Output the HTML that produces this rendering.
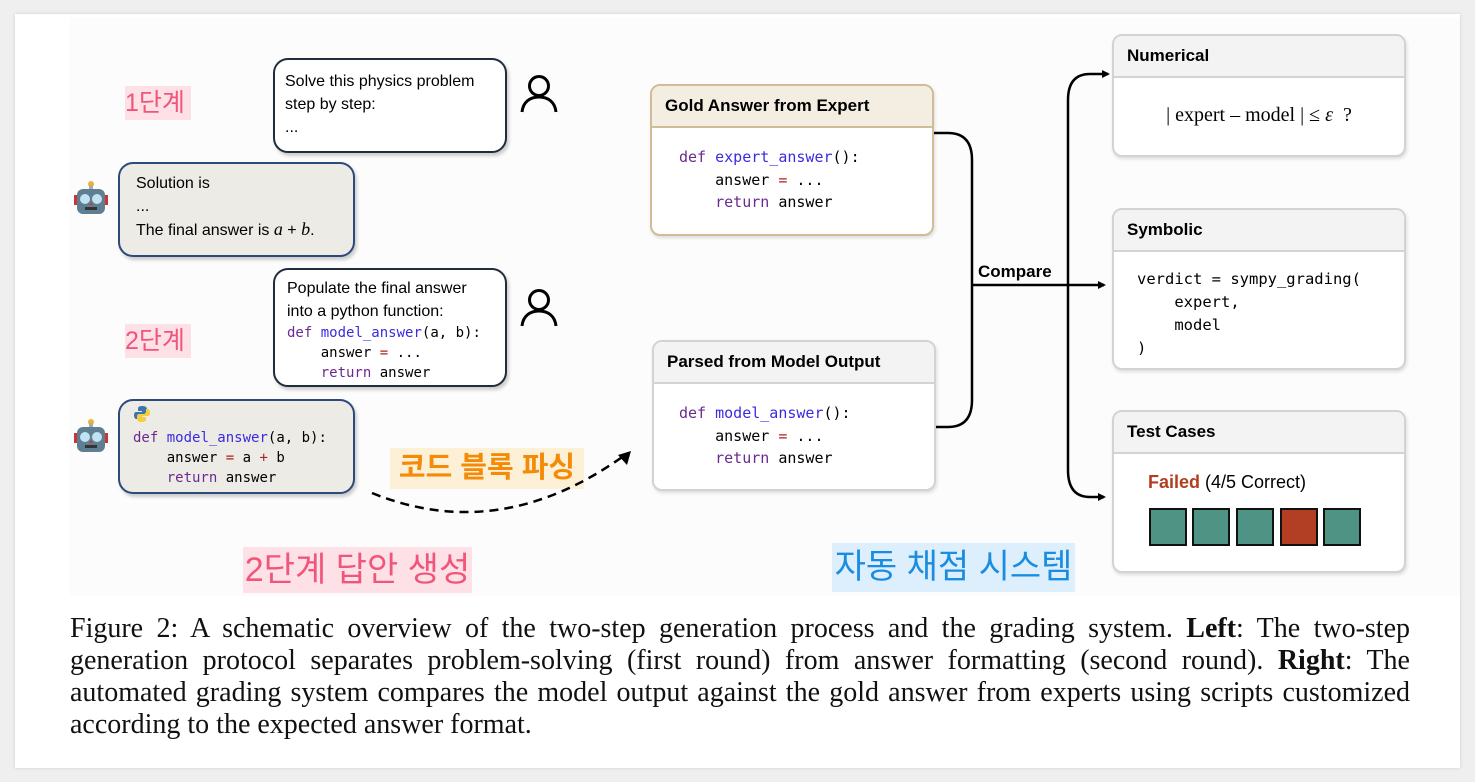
<!DOCTYPE html>
<html><head><meta charset="utf-8"><style>
body{margin:0;width:1475px;height:782px;background:#efefef;position:relative;overflow:hidden;font-family:"Liberation Sans",sans-serif}
.card{position:absolute;left:15px;top:14px;width:1445px;height:754px;background:#fff;box-shadow:0 0 3px #ccc}
.dg{position:absolute;left:70px;top:18px;width:1390px;height:578px;background:#fcfcfc}
.a{position:absolute;box-sizing:border-box}
.ub{border:2px solid #1f2d3d;border-radius:15px;background:#fff;box-shadow:2px 3px 3px #ccc;font-size:16px;line-height:23px;padding:10px 10px}
.bb{border:2px solid #2d4b7a;border-radius:15px;background:#ecebe6;box-shadow:2px 3px 3px #ccc;font-size:16px;line-height:23px;padding:8px 16px}
.mono{font-family:"DejaVu Sans Mono","Liberation Mono",monospace;font-size:14px;line-height:20px;white-space:pre}
.k{color:#6a2a8f}.f{color:#3b2be0}.o{color:#b02020}
.box{border:2px solid #d3d3d3;border-radius:10px;background:#fff;overflow:hidden;box-shadow:1px 2px 3px #ddd}
.hd{height:40px;background:#f3f3f3;border-bottom:2px solid #d3d3d3;font-weight:bold;font-size:17px;line-height:40px;padding-left:13px}
.lbl{position:absolute;font-family:"Liberation Sans","Noto Sans CJK KR",sans-serif;white-space:nowrap}
.cap{position:absolute;left:70px;top:613px;width:1340px;font-family:"Liberation Serif",serif;font-size:28px;line-height:32px;color:#111}
.cap div{text-align:justify;text-align-last:justify;white-space:nowrap}
.cap div.l{text-align-last:left}
.sq{position:absolute;top:508px;width:38px;height:38px;border:2px solid #111;background:#4f9384;box-sizing:border-box}
</style></head><body>
<div class="card"></div>
<div class="dg"></div>

<div class="lbl" style="left:125px;top:86px;height:34px;width:66px;background:#fde1e7;color:#f0557a;font-size:25px;line-height:34px">1단계</div>
<div class="lbl" style="left:125px;top:324px;height:34px;width:66px;background:#fde1e7;color:#f0557a;font-size:25px;line-height:34px">2단계</div>
<div class="lbl" style="left:243px;top:547px;height:46px;width:229px;background:#fde1e7;color:#f0557a;font-size:34px;line-height:46px;text-align:center">2단계 답안 생성</div>
<div class="lbl" style="left:390px;top:448px;height:41px;width:194px;background:#fcf1d6;color:#f58a07;font-size:29px;font-weight:bold;line-height:41px;text-align:center">코드 블록 파싱</div>
<div class="lbl" style="left:832px;top:543px;height:49px;width:243px;background:#ddeefc;color:#1a8de0;font-size:34px;line-height:49px;text-align:center">자동 채점 시스템</div>

<div class="a ub" style="left:273px;top:58px;width:234px;height:95px">Solve this physics problem<br>step by step:<br>...</div>
<div class="a bb" style="left:118px;top:162px;width:237px;height:95px">Solution is<br>...<br>The final answer is <i style="font-family:'Liberation Serif',serif;font-size:18px">a</i> + <i style="font-family:'Liberation Serif',serif;font-size:18px">b</i>.</div>
<div class="a ub" style="left:273px;top:268px;width:234px;height:119px;padding:7px 12px">Populate the final answer<br>into a python function:<div class="mono"><span class="k">def</span> <span class="f">model_answer</span>(a, b):
    answer <span class="o">=</span> ...
    <span class="k">return</span> answer</div></div>
<div class="a bb" style="left:118px;top:399px;width:237px;height:95px;padding:4px 13px">
<svg width="18" height="18" viewBox="0 0 18 18"><path d="M9 1c-4 0-4 2-4 3v2h4v1H3c-2 0-2 3-2 4s1 3 2 3h2v-2c0-2 1-3 3-3h4c1 0 2-1 2-2V4c0-2-2-3-5-3z" fill="#3a75b0"/><path d="M9 17c4 0 4-2 4-3v-2H9v-1h6c2 0 2-3 2-4s-1-3-2-3h-2v2c0 2-1 3-3 3H6c-1 0-2 1-2 2v3c0 2 2 3 5 3z" fill="#f6cd3c"/></svg>
<div class="mono" style="margin-top:-2px"><span class="k">def</span> <span class="f">model_answer</span>(a, b):
    answer <span class="o">=</span> a <span class="o">+</span> b
    <span class="k">return</span> answer</div></div>

<svg class="a" style="left:73px;top:180px" width="36" height="36" viewBox="0 0 36 36"><circle cx="18" cy="4" r="3" fill="#f3b12f"/><rect x="16" y="5" width="4" height="5" fill="#aaa"/><rect x="1" y="15" width="4" height="10" fill="#c33"/><rect x="31" y="15" width="4" height="10" fill="#c33"/><rect x="4" y="9" width="28" height="25" rx="6" fill="#5e7f92"/><circle cx="12" cy="19" r="5" fill="#bfe3f3"/><circle cx="24" cy="19" r="5" fill="#bfe3f3"/><path d="M16 25h4l-2-3z" fill="#d33"/><rect x="12" y="27" width="12" height="3" fill="#333"/></svg>
<svg class="a" style="left:73px;top:418px" width="36" height="36" viewBox="0 0 36 36"><circle cx="18" cy="4" r="3" fill="#f3b12f"/><rect x="16" y="5" width="4" height="5" fill="#aaa"/><rect x="1" y="15" width="4" height="10" fill="#c33"/><rect x="31" y="15" width="4" height="10" fill="#c33"/><rect x="4" y="9" width="28" height="25" rx="6" fill="#5e7f92"/><circle cx="12" cy="19" r="5" fill="#bfe3f3"/><circle cx="24" cy="19" r="5" fill="#bfe3f3"/><path d="M16 25h4l-2-3z" fill="#d33"/><rect x="12" y="27" width="12" height="3" fill="#333"/></svg>

<svg class="a" style="left:520px;top:74px" width="38" height="40" viewBox="0 0 38 40"><circle cx="19" cy="12" r="9.5" fill="none" stroke="#000" stroke-width="3"/><path d="M2 38c1-10 8-15 17-15s16 5 17 15" fill="none" stroke="#000" stroke-width="3"/></svg>
<svg class="a" style="left:520px;top:288px" width="38" height="40" viewBox="0 0 38 40"><circle cx="19" cy="12" r="9.5" fill="none" stroke="#000" stroke-width="3"/><path d="M2 38c1-10 8-15 17-15s16 5 17 15" fill="none" stroke="#000" stroke-width="3"/></svg>

<div class="a box" style="left:650px;top:84px;width:284px;height:152px;border-color:#cfbd98">
<div class="hd" style="background:#f3eee1;border-color:#cfbd98">Gold Answer from Expert</div>
<div class="mono" style="padding:18px 0 0 27px;line-height:22.5px;font-size:15px"><span class="k">def</span> <span class="f">expert_answer</span>():
    answer <span class="o">=</span> ...
    <span class="k">return</span> answer</div></div>
<div class="a box" style="left:652px;top:340px;width:284px;height:151px">
<div class="hd">Parsed from Model Output</div>
<div class="mono" style="padding:18px 0 0 25px;line-height:22.5px;font-size:15px"><span class="k">def</span> <span class="f">model_answer</span>():
    answer <span class="o">=</span> ...
    <span class="k">return</span> answer</div></div>

<div class="a box" style="left:1112px;top:34px;width:294px;height:123px">
<div class="hd">Numerical</div>
<div style="text-align:center;font-family:'Liberation Serif',serif;font-size:20px;padding-top:26px">| expert – model | ≤ <i>ε</i> &nbsp;?</div></div>
<div class="a box" style="left:1112px;top:208px;width:294px;height:162px">
<div class="hd">Symbolic</div>
<div class="mono" style="padding:16px 0 0 23px;line-height:23px;font-size:15.5px">verdict = sympy_grading(
    expert,
    model
)</div></div>
<div class="a box" style="left:1112px;top:410px;width:294px;height:163px">
<div class="hd">Test Cases</div>
<div style="padding:18px 0 0 34px;font-size:18px"><b style="color:#b23e22">Failed</b> (4/5 Correct)</div></div>
<div class="sq" style="left:1149px"></div><div class="sq" style="left:1192px"></div><div class="sq" style="left:1236px"></div><div class="sq" style="left:1280px;background:#b23f24"></div><div class="sq" style="left:1323px"></div>

<svg class="a" style="left:0;top:0" width="1475" height="782">
<defs><marker id="ar" markerWidth="8" markerHeight="8" refX="6" refY="4" orient="auto" markerUnits="userSpaceOnUse"><path d="M0 0L8 4L0 8z"/></marker></defs>
<g fill="none" stroke="#000" stroke-width="2.5">
<path d="M934 133H948Q972 133 972 160V400Q972 427 948 427H936"/>
<path d="M972 285H1104" marker-end="url(#ar)"/>
<path d="M1108 74H1090Q1068 74 1068 100V470Q1068 497 1090 497H1104" marker-end="url(#ar)"/>
<path d="M1104 74H1108" marker-end="url(#ar)"/>
<path d="M372 493Q500 545 625 455" stroke-dasharray="9 6"/>
</g>
<path d="M631 451L618 455L627 465z" fill="#000"/>
</svg>
<div class="lbl" style="left:978px;top:262px;font-weight:bold;font-size:17px">Compare</div>

<div class="cap">
<div>Figure 2: A schematic overview of the two-step generation process and the grading system. <b>Left</b>: The two-step</div>
<div>generation protocol separates problem-solving (first round) from answer formatting (second round). <b>Right</b>: The</div>
<div>automated grading system compares the model output against the gold answer from experts using scripts customized</div>
<div class="l">according to the expected answer format.</div>
</div>
</body></html>
